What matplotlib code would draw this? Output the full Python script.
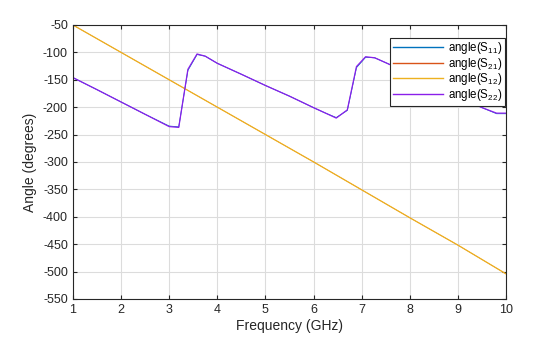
import matplotlib.pyplot as plt

# frequency points (GHz) and phase values (degrees)
freq = [1, 1.5, 2, 2.5, 3.0, 3.2, 3.39, 3.58, 3.75, 4, 4.5, 5, 5.5, 6, 6.25,
        6.47, 6.7, 6.89, 7.08, 7.27, 7.5, 8, 8.5, 9, 9.25, 9.5, 9.8, 10]
s22 = [-146, -168, -190.5, -213, -235.5, -237, -131, -103, -107, -120, -140,
       -160.5, -180, -201, -211, -220, -205, -126, -108, -110, -119, -139,
       -159, -181, -191, -201, -211, -211]
s11 = [-146, -168, -190.5, -213, -234.5, -236, -133, -104, -107, -120, -140,
       -160.5, -180, -201, -211, -219, -206, -128, -109, -110, -119, -139,
       -159, -181, -191, -201, -212, -212]

freq_t = [1, 2, 3, 4, 5, 6, 7, 8, 9, 10]
s21 = [-50, -100, -150, -200, -250, -300, -351, -402, -452, -504.5]
s12 = [-50, -100, -150, -200, -250, -300, -351, -402, -452, -504.5]

plt.rcParams['font.family'] = ['Liberation Sans', 'DejaVu Sans']
plt.rcParams['axes.unicode_minus'] = False
plt.rcParams['mathtext.fontset'] = 'custom'
plt.rcParams['mathtext.rm'] = 'Liberation Sans'
plt.rcParams['mathtext.it'] = 'Liberation Sans'
plt.rcParams['mathtext.default'] = 'rm'

fig = plt.figure(figsize=(5.6, 3.37), dpi=100)
ax = fig.add_axes([0.130, 0.113, 0.774, 0.813])

ax.plot(freq, s11, color='#0072BD', lw=0.6, label='angle(S$_{11}$)')
ax.plot(freq_t, s21, color='#D95319', lw=0.4, label='angle(S$_{21}$)')
ax.plot(freq_t, s12, color='#EDB120', lw=0.9, label='angle(S$_{12}$)')
ax.plot(freq, s22, color='#8A1FEA', lw=0.9, label='angle(S$_{22}$)')

ax.set_xlim(1, 10)
ax.set_ylim(-550, -50)
ax.set_xticks(range(1, 11))
ax.set_yticks(range(-550, -49, 50))
ax.grid(True, color='#dcdcdc', lw=0.8)
ax.set_axisbelow(True)
ax.tick_params(direction='in', labelsize=9, colors='#262626', length=3,
               top=True, right=True)
for s in ax.spines.values():
    s.set_color('#262626')
    s.set_linewidth(0.8)

ax.set_xlabel('Frequency (GHz)', fontsize=10, color='#262626', labelpad=2)
ax.set_ylabel('Angle (degrees)', fontsize=10, color='#262626', labelpad=4)

leg = ax.legend(loc='upper right', bbox_to_anchor=(1.0, 0.958), fontsize=8.3,
                fancybox=False, framealpha=1, edgecolor='#262626',
                borderpad=0.25, labelspacing=-0.05, handlelength=4.4,
                handletextpad=0.4, borderaxespad=0.1)
leg.get_frame().set_linewidth(0.8)
for h in leg.get_lines():
    h.set_linewidth(1.0)

fig.savefig('out.png', dpi=100)
